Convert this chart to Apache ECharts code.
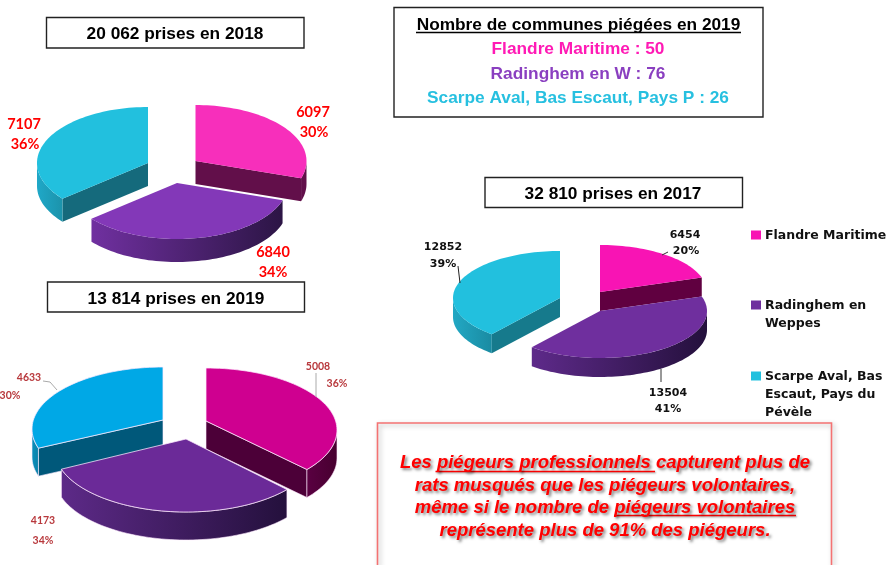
<!DOCTYPE html>
<html>

<head>
    <meta charset="utf-8">
    <script src="https://cdn.jsdelivr.net/npm/echarts@6/dist/echarts.min.js"></script>
    <style>
        html, body { margin: 0; padding: 0; background: #fff; }
        #main { width: 888px; height: 565px; }
    </style>
</head>

<body>
    <div id="main"></div>
    <script>
        // data
        var secteurs = ['Flandre Maritime', 'Radinghem en\nWeppes', 'Scarpe Aval, Bas\nEscaut, Pays du\nPévèle'];
        var prises2018 = [6097, 6840, 7107];
        var parts2018 = [30, 34, 36];
        var prises2019 = [5008, 4173, 4633];
        var parts2019 = [36, 34, 30];
        var prises2017 = [6454, 13504, 12852];
        var parts2017 = [20, 41, 39];
        var communes = ['Flandre Maritime : 50', 'Radinghem en W : 76', 'Scarpe Aval, Bas Escaut, Pays P : 26'];
        var conclusion = [
            'Les piégeurs professionnels capturent plus de',
            'rats musqués que les piégeurs volontaires,',
            'même si le nombre de piégeurs volontaires',
            'représente plus de 91% des piégeurs.'
        ];

        // where each pie sits: ellipse centre, apex shift, radii, wall height, colours
        var pie2018 = {
            rx: 111, ry: 56, h: 23,
            centres: [[195.5, 161, 0], [177, 183, 0], [148, 163, 0]],
            top: ['#f72fbb', '#8338b8', '#22c0de'],
            inner: ['#620f4a', '#3a1a5c', '#156a7c'],
            outer: [['#620f4a', '#620f4a'], ['#7030a0', '#2c1545'], ['#1fa8c8', '#1c93ab']],
            edge: null
        };
        var pie2019 = {
            rx: 131, ry: 62, h: 28,
            centres: [[206, 430, -9], [186, 450, -11], [163, 429, -9]],
            top: ['#cf0090', '#6b2a98', '#00a8e6'],
            inner: ['#4c0038', '#2e1648', '#00587a'],
            outer: [['#5a0042', '#47002f'], ['#5d2a88', '#24103c'], ['#0a90bc', '#0a80a8']],
            edge: 'rgba(255,235,255,0.75)'
        };
        var pie2017 = {
            rx: 107, ry: 47, h: 19,
            centres: [[600, 292, 0], [600, 311, 0], [560, 298, 0]],
            top: ['#f814b4', '#6f2f9e', '#22c0de'],
            inner: ['#600040', '#2e1648', '#167a8c'],
            outer: [['#600040', '#600040'], ['#5e2a8a', '#24103c'], ['#22a8c4', '#1a8ba2']],
            edge: null
        };

        function rim(p, c, deg) {
            var a = deg * Math.PI / 180;
            return [c[0] + p.rx * Math.cos(a), c[1] - p.ry * Math.sin(a)];
        }

        function arcPoints(p, c, from, to, dy) {
            var pts = [];
            var n = Math.max(2, Math.ceil(Math.abs(from - to) / 2));
            for (var i = 0; i <= n; i++) {
                var q = rim(p, c, from + (to - from) * i / n);
                pts.push([q[0], q[1] + dy]);
            }
            return pts;
        }

        // one slice = top face + the walls a viewer can see; angles follow the parts array
        function slicePainter(p, parts) {
            return function (params, api) {
                var i = params.dataIndex;
                var avant = 0;
                for (var k = 0; k < i; k++) avant += parts[k];
                var a0 = 90 - avant * 3.6;
                var a1 = a0 - api.value(0) * 3.6;
                var c = p.centres[i];
                var apex = [c[0], c[1] + c[2]];
                var z = i === 1 ? 3 : 1;
                var stroke = p.edge || 'none';
                var kids = [];

                function paroi(pts, fill) {
                    kids.push({
                        type: 'polygon', z2: z,
                        shape: { points: pts },
                        style: { fill: fill, stroke: stroke, lineWidth: 0.8 }
                    });
                }

                function radiale(deg) {
                    var r = rim(p, c, deg);
                    paroi([apex, r, [r[0], r[1] + p.h], [apex[0], apex[1] + p.h]], p.inner[i]);
                }
                if (Math.cos(a0 * Math.PI / 180) < -0.01) radiale(a0);
                if (Math.cos(a1 * Math.PI / 180) > 0.01) radiale(a1);

                // only the front half of the rim shows a wall
                var de = Math.min(a0, 0);
                var vers = Math.max(a1, -180);
                if (de > vers) {
                    var haut = arcPoints(p, c, de, vers, 0);
                    var bas = arcPoints(p, c, vers, de, p.h);
                    paroi(haut.concat(bas), new echarts.graphic.LinearGradient(0, 0, 1, 0, [
                        { offset: 0, color: p.outer[i][0] },
                        { offset: 1, color: p.outer[i][1] }
                    ]));
                }

                kids.push({
                    type: 'polygon', z2: z + 1,
                    shape: { points: [apex].concat(arcPoints(p, c, a0, a1, 0)) },
                    style: { fill: p.top[i], stroke: stroke, lineWidth: 1 }
                });
                return { type: 'group', children: kids };
            };
        }

        function pieSeries(p, parts) {
            return {
                type: 'custom',
                coordinateSystem: 'none',
                silent: true,
                animation: false,
                clip: false,
                renderItem: slicePainter(p, parts),
                data: parts.map(function (v) { return [v]; })
            };
        }

        var elems = [];

        function txt(x, y, s, font, fill, extra) {
            var style = { x: x, y: y, text: s, font: font, fill: fill, align: 'center', verticalAlign: 'middle' };
            for (var k in extra) style[k] = extra[k];
            elems.push({ type: 'text', z: 10, silent: true, style: style });
        }

        function box(x, y, w, h, stroke) {
            elems.push({
                type: 'rect', z: 8, silent: true,
                shape: { x: x, y: y, width: w, height: h },
                style: { fill: '#fff', stroke: stroke || '#222', lineWidth: 1.4 }
            });
        }

        function trait(pts, color, width, extra) {
            var style = { stroke: color, lineWidth: width, fill: 'none' };
            for (var k in extra) style[k] = extra[k];
            elems.push({ type: 'polyline', z: 9, silent: true, shape: { points: pts }, style: style });
        }

        var arial = 'bold 17.3px "Liberation Sans"';

        // titles
        box(46.5, 17.5, 257.5, 30.5);
        txt(175, 34, '20 062 prises en 2018', arial, '#000');
        box(47.5, 282, 257, 30);
        txt(176, 299, '13 814 prises en 2019', arial, '#000');
        box(485, 177.5, 257.5, 30);
        txt(613, 194, '32 810 prises en 2017', arial, '#000');

        // communes box
        box(394, 7.5, 369, 109.5);
        txt(578.5, 25, 'Nombre de communes piégées en 2019', arial, '#000');
        trait([[416, 32.5], [741, 32.5]], '#000', 1.5);
        var couleursCommunes = ['#ff1ab5', '#8a3fc0', '#27c0e0'];
        var yCommunes = [49, 74, 98.5];
        communes.forEach(function (s, i) {
            txt(578, yCommunes[i], s, arial, couleursCommunes[i]);
        });

        // pie labels: value and share sit at their own spot
        function etiquettes(prises, parts, posVal, posPct, font, color) {
            prises.forEach(function (v, i) {
                txt(posVal[i][0], posVal[i][1], String(v), font, color);
                txt(posPct[i][0], posPct[i][1], parts[i] + '%', font, color);
            });
        }
        etiquettes(prises2018, parts2018,
            [[313, 112], [273, 252], [24, 124]],
            [[314, 132], [273, 272], [25, 144]],
            'bold 14.5px Lato', '#ff0000');
        etiquettes(prises2019, parts2019,
            [[318, 367], [43, 521], [29, 378]],
            [[337, 384], [43, 541], [10, 396]],
            'bold 10.5px Lato', '#b8383c');
        etiquettes(prises2017, parts2017,
            [[685, 235], [668, 393], [443, 247]],
            [[686, 251], [668, 409], [443, 264]],
            'bold 11px "DejaVu Sans"', '#111');

        // leader lines
        trait([[316, 373], [316, 397]], '#aaa', 1);
        trait([[43, 381], [50, 382], [57, 390]], '#aaa', 1);
        trait([[662, 255], [668, 252]], '#333', 1);
        trait([[458, 266], [460, 283]], '#222', 1);
        trait([[661, 369], [661, 382]], '#333', 1);

        // legend
        var yLegende = [235, 305, 376];
        var couleursLegende = ['#f814b4', '#6f2f9e', '#22c0de'];
        secteurs.forEach(function (s, i) {
            elems.push({
                type: 'rect', z: 10, silent: true,
                shape: { x: 751, y: yLegende[i] - 4.5, width: 10, height: 9 },
                style: { fill: couleursLegende[i] }
            });
            elems.push({
                type: 'text', z: 10, silent: true,
                style: {
                    x: 765, y: yLegende[i] - 8.5, text: s, font: 'bold 12.5px "DejaVu Sans"', fill: '#111',
                    lineHeight: 18, align: 'left', verticalAlign: 'top'
                }
            });
        });

        // conclusion box, open at the bottom of the page
        trait([[377.5, 566], [377.5, 423], [831.5, 423], [831.5, 566]], '#f47272', 1.6,
            { shadowBlur: 5, shadowColor: 'rgba(0,0,0,0.3)', shadowOffsetX: 2, shadowOffsetY: 2 });
        var yConclusion = [462.5, 485.5, 507.5, 530.5];
        var ombre = { textShadowBlur: 3, textShadowColor: 'rgba(0,0,0,0.5)', textShadowOffsetX: 2, textShadowOffsetY: 2 };
        conclusion.forEach(function (s, i) {
            txt(605, yConclusion[i], s, 'italic bold 18.5px "Liberation Sans"', '#ff0000', ombre);
        });
        var ombreTrait = { shadowBlur: 2, shadowColor: 'rgba(0,0,0,0.4)', shadowOffsetX: 1, shadowOffsetY: 1 };
        trait([[435.5, 471.5], [655, 471.5]], '#ff0000', 1.4, ombreTrait);
        trait([[614, 515.5], [796, 515.5]], '#ff0000', 1.4, ombreTrait);

        var myChart = echarts.init(document.getElementById('main'), null, { renderer: 'canvas' });
        var option = {
            backgroundColor: '#fff',
            animation: false,
            series: [
                pieSeries(pie2018, parts2018),
                pieSeries(pie2019, parts2019),
                pieSeries(pie2017, parts2017)
            ],
            graphic: { elements: elems }
        };
        myChart.setOption(option);
    </script>
</body>

</html>
